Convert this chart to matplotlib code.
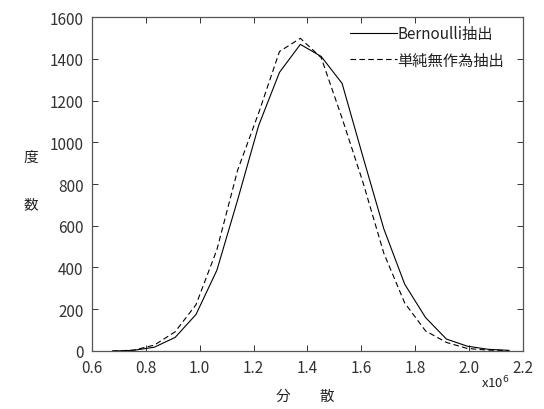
import numpy as np
import matplotlib
matplotlib.use('Agg')
import matplotlib.pyplot as plt

plt.rcParams['font.family'] = ['Noto Sans CJK JP', 'DejaVu Sans']

# bin centres (x10^6) and counts
variance = [0.6765, 0.754, 0.8315, 0.909, 0.9865, 1.064, 1.1415, 1.219, 1.2965,
            1.374, 1.4515, 1.529, 1.6065, 1.684, 1.7615, 1.839, 1.9165, 1.994,
            2.0715, 2.149]
bernoulli = [0, 3, 18, 65, 175, 387, 726, 1080, 1335,
             1469, 1411, 1282, 930, 585, 320, 160, 57, 23, 8, 3]
simple_random = [0, 4, 28, 92, 222, 485, 868, 1140, 1435,
                 1498, 1405, 1115, 808, 468, 230, 96, 41, 12, 4, 2]

x_ticks = [0.6, 0.8, 1.0, 1.2, 1.4, 1.6, 1.8, 2.0, 2.2]
y_ticks = [0, 200, 400, 600, 800, 1000, 1200, 1400, 1600]

fig = plt.figure(figsize=(5.44, 4.10), dpi=100)
ax = fig.add_axes([0.169, 0.1415, 0.792, 0.8145])

ax.plot(variance, bernoulli, '-', color='black', linewidth=0.8, label='Bernoulli抽出')
ax.plot(variance, simple_random, '--', color='black', linewidth=0.8,
        dashes=(5, 3), label='単純無作為抽出')

ax.set_xlim(0.6, 2.2)
ax.set_ylim(0, 1600)
ax.set_xticks(x_ticks)
ax.set_xticklabels([f'{v:.1f}' for v in x_ticks])
ax.set_yticks(y_ticks)
ax.tick_params(direction='in', length=4, width=0.7, top=True, right=True,
               labelsize=11, colors='#333333', pad=6)
for s in ax.spines.values():
    s.set_color('#555555')
    s.set_linewidth(0.9)

leg = ax.legend(loc='upper left', frameon=False, handlelength=3.1,
                handletextpad=0.0, fontsize=11, borderpad=0, borderaxespad=0,
                labelspacing=0.6, bbox_to_anchor=(0.599, 0.975))
for t in leg.get_texts():
    t.set_color('#222222')

fig.text(0.057, 0.615, '度', fontsize=10.5, ha='center', va='center', color='#222222')
fig.text(0.057, 0.5, '数', fontsize=10.5, ha='center', va='center', color='#222222')
fig.text(0.562, 0.032, '分　　散', fontsize=10.5, ha='center', va='center', color='#222222')
fig.text(0.91, 0.066, r'x10$^6$', fontsize=9.5, ha='center', va='center', color='#222222')

fig.savefig('out.png', dpi=100)
